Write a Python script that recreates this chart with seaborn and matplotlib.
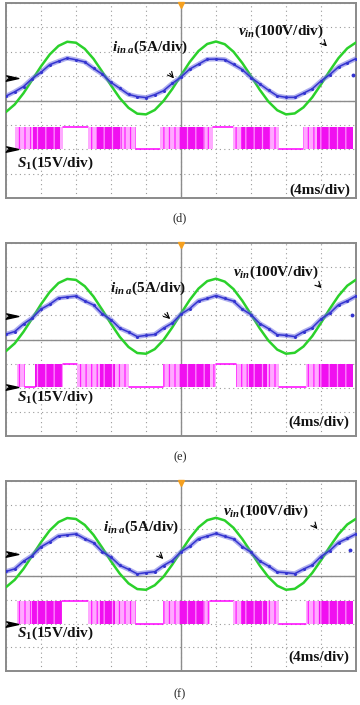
import matplotlib
matplotlib.use("Agg")
import numpy as np
import pandas as pd
import seaborn as sns
from matplotlib import pyplot as plt

sns.set_style("white")
plt.rcParams["font.family"] = ["Liberation Serif", "DejaVu Serif"]
plt.rcParams["mathtext.fontset"] = "custom"
plt.rcParams["mathtext.it"] = "Liberation Serif:bold:italic"
plt.rcParams["mathtext.rm"] = "Liberation Serif:bold"
plt.rcParams["hatch.linewidth"] = 0.9

## time axis in ms (4 ms/div, 10 div)
t_ms = list(range(41))

## traces in divisions, read at every 1 ms
vin_d = [-0.47, -0.16, 0.30, 0.85, 1.40, 1.89, 2.24, 2.41, 2.37, 2.12, 1.71, 1.18, 0.62, 0.10,
         -0.30, -0.54, -0.57, -0.39, -0.02, 0.47, 1.03, 1.58, 2.03, 2.32, 2.42, 2.31, 2.00, 1.54,
         1.00, 0.44, -0.05, -0.40, -0.57, -0.53, -0.28, 0.13, 0.66, 1.22, 1.74, 2.14, 2.38]
iin_d = [0.18, 0.36, 0.57, 0.90, 1.16, 1.47, 1.61, 1.74, 1.67, 1.58, 1.32, 1.08, 0.74, 0.50,
         0.25, 0.16, 0.12, 0.24, 0.40, 0.70, 0.96, 1.29, 1.49, 1.69, 1.70, 1.68, 1.48, 1.27,
         0.94, 0.68, 0.42, 0.19, 0.13, 0.13, 0.30, 0.48, 0.80, 1.06, 1.38, 1.55, 1.72]
vin_e = [-0.48, -0.16, 0.32, 0.88, 1.46, 1.97, 2.34, 2.51, 2.47, 2.21, 1.78, 1.23, 0.65, 0.11,
         -0.31, -0.56, -0.59, -0.40, -0.02, 0.50, 1.08, 1.64, 2.11, 2.42, 2.52, 2.40, 2.09, 1.61,
         1.04, 0.46, -0.05, -0.42, -0.59, -0.55, -0.29, 0.14, 0.69, 1.27, 1.81, 2.23, 2.48]
iin_e = [0.22, 0.33, 0.64, 0.89, 1.26, 1.46, 1.72, 1.76, 1.80, 1.60, 1.43, 1.06, 0.82, 0.47,
         0.31, 0.12, 0.17, 0.21, 0.47, 0.68, 1.05, 1.28, 1.60, 1.70, 1.82, 1.70, 1.59, 1.26,
         1.03, 0.66, 0.45, 0.20, 0.17, 0.12, 0.32, 0.49, 0.85, 1.09, 1.44, 1.60, 1.80]
vin_f = [-0.47, -0.16, 0.30, 0.86, 1.42, 1.92, 2.27, 2.44, 2.40, 2.15, 1.73, 1.19, 0.62, 0.10,
         -0.31, -0.55, -0.58, -0.39, -0.03, 0.48, 1.04, 1.59, 2.05, 2.35, 2.45, 2.34, 2.03, 1.56,
         1.01, 0.44, -0.05, -0.41, -0.58, -0.54, -0.29, 0.13, 0.66, 1.23, 1.76, 2.17, 2.41]
iin_f = [0.19, 0.30, 0.62, 0.86, 1.23, 1.44, 1.69, 1.73, 1.77, 1.57, 1.40, 1.03, 0.79, 0.45,
         0.28, 0.09, 0.14, 0.18, 0.44, 0.65, 1.02, 1.25, 1.57, 1.68, 1.79, 1.67, 1.56, 1.24,
         1.00, 0.63, 0.42, 0.17, 0.14, 0.10, 0.29, 0.46, 0.82, 1.07, 1.41, 1.58, 1.77]

## stray current sample near right edge (ms, div)
iin_dot_d = (39.6, 1.04)
iin_dot_e = (39.5, 1.02)
iin_dot_f = (39.3, 1.09)

## channel ground levels (div)
gnd_d = [0.92, -2.0]
gnd_e = [0.96, -1.96]
gnd_f = [0.93, -2.0]

## S1 gate signal: low / high level (div) and segments (ms)
## kinds: D dense switching, L sparse switching, H held high, W held low
s1_lv_d = [-2.0, -1.1]
s1_edges_d = [1.0, 3.1, 6.2, 6.5, 9.4, 10.4, 13.2, 14.9, 17.6, 19.8, 22.7, 23.6, 25.9, 27.0,
              30.1, 31.2, 33.9, 35.5, 39.6]
s1_kind_d = ["L", "D", "L", "H", "L", "D", "L", "W", "L", "D", "L", "H", "L", "D", "L", "W", "L", "D"]
s1_lv_e = [-1.96, -1.0]
s1_edges_e = [1.2, 2.2, 3.3, 6.5, 8.1, 10.7, 12.4, 14.1, 17.9, 19.8, 23.3, 24.0, 26.3, 27.8,
              29.8, 31.2, 34.3, 35.8, 39.6]
s1_kind_e = ["L", "W", "D", "H", "L", "D", "L", "W", "L", "D", "L", "H", "L", "D", "L", "W", "L", "D"]
s1_lv_f = [-2.0, -1.06]
s1_edges_f = [1.2, 3.0, 6.4, 9.4, 10.7, 12.4, 14.9, 17.9, 19.8, 22.7, 23.3, 25.9, 27.0, 29.8,
              31.2, 34.3, 35.8, 39.6]
s1_kind_f = ["L", "D", "H", "L", "D", "L", "W", "L", "D", "L", "H", "L", "D", "L", "W", "L", "D"]

## label anchors (ms, div)
lab_d = {"i": (12.1, 2.19), "v": (26.5, 2.85), "s": (1.3, -2.56), "t": (39.3, -3.67),
         "a1": [(18.5, 1.20), (19.4, 0.82)], "a2": [(36.1, 2.43), (36.9, 2.14)]}
lab_e = {"i": (11.9, 2.14), "v": (25.9, 2.80), "s": (1.3, -2.39), "t": (39.2, -3.42),
         "a1": [(17.9, 1.14), (19.0, 0.77)], "a2": [(35.5, 2.34), (36.3, 2.05)]}
lab_f = {"i": (11.1, 2.06), "v": (24.8, 2.74), "s": (1.3, -2.40), "t": (39.2, -3.41),
         "a1": [(17.3, 0.97), (18.2, 0.63)], "a2": [(35.0, 2.23), (35.8, 1.89)]}

panels = [
    ("(d)", vin_d, iin_d, iin_dot_d, gnd_d, s1_lv_d, s1_edges_d, s1_kind_d, lab_d),
    ("(e)", vin_e, iin_e, iin_dot_e, gnd_e, s1_lv_e, s1_edges_e, s1_kind_e, lab_e),
    ("(f)", vin_f, iin_f, iin_dot_f, gnd_f, s1_lv_f, s1_edges_f, s1_kind_f, lab_f),
]

W, H = 360, 705
fig = plt.figure(figsize=(W / 100, H / 100), dpi=100)

## axes boxes in pixels: (top, bottom), caption y
boxes = [(3, 198, 218), (243, 436, 457), (481, 671, 694)]

green = "#2bd12b"
blue = "#3434d0"
mag = "#ff00ff"

for (cap, vin, iin, dot, gnd, lv, edges, kinds, lab), (top, bot, capy) in zip(panels, boxes):
    ax = fig.add_axes([6 / W, 1 - bot / H, 350 / W, (bot - top) / H])
    ax.set_xlim(0, 40)
    ax.set_ylim(-4, 4)
    ax.set_xticks(range(0, 41, 4))
    ax.set_yticks(range(-4, 5))
    ax.tick_params(length=0, labelbottom=False, labelleft=False)
    ax.grid(True, ls=(0, (1, 3)), color="#9a9a9a", lw=0.8)
    ax.axhline(0, color="#8c8c8c", lw=1.0, zorder=1)
    ax.axvline(20, color="#8c8c8c", lw=1.0, zorder=1)
    for sp in ax.spines.values():
        sp.set_color("#8a8a8a")
        sp.set_linewidth(1.4)

    df = pd.DataFrame({"t": t_ms, "vin": vin, "iin": iin})
    sns.lineplot(ax=ax, data=df, x="t", y="vin", color=green, lw=1.8, errorbar=None, zorder=4)
    sns.lineplot(ax=ax, data=df, x="t", y="iin", color="#6a6ae0", lw=3.4, alpha=0.55,
                 errorbar=None, zorder=5)
    sns.lineplot(ax=ax, data=df, x="t", y="iin", color=blue, lw=1.1, marker="o",
                 markersize=2.2, markeredgewidth=0, errorbar=None, zorder=6)
    ax.plot(*dot, "o", color=blue, ms=2.8, mew=0, zorder=6)

    lo, hi = lv
    for t0, t1, k in zip(edges[:-1], edges[1:], kinds):
        if k == "H":
            ax.plot([t0, t1], [hi, hi], color=mag, lw=1.1, zorder=3)
        elif k == "W":
            ax.plot([t0, t1], [lo, lo], color=mag, lw=1.1, zorder=3)
        elif k == "D":
            ax.fill_between([t0, t1], [lo, lo], [hi, hi], facecolor="#f010f0",
                            edgecolor="#ff90ff", hatch="||", lw=0, zorder=3)
        else:
            ax.fill_between([t0, t1], [lo, lo], [hi, hi], facecolor="#ffaaff",
                            edgecolor="#ff20ff", hatch="|||", lw=0, zorder=3)

    ## ground markers and trigger marker
    arrow = [(-1.6, 0.7), (1.6, 0), (-1.6, -0.7), (-1.0, 0)]
    for g in gnd:
        ax.plot(0.7, g, marker=arrow, color="black", ms=9, clip_on=False, zorder=8)
    ax.plot(20, 3.9, marker="v", color="#f5a020", ms=5, clip_on=False, zorder=8)

    ax.text(*lab["i"], r"$i_{in\ a}$(5A/div)", fontsize=11, fontweight="bold",
            va="center", ha="left", color="#111111", zorder=9)
    ax.text(*lab["v"], r"$v_{in}$(100V/div)", fontsize=11, fontweight="bold",
            va="center", ha="left", color="#111111", zorder=9)
    ax.text(*lab["s"], r"$S_1$(15V/div)", fontsize=11, fontweight="bold",
            va="center", ha="left", color="#111111", zorder=9)
    ax.text(*lab["t"], "(4ms/div)", fontsize=11, fontweight="bold",
            va="center", ha="right", color="#111111", zorder=9)
    for key in ("a1", "a2"):
        p0, p1 = lab[key]
        ax.annotate("", xy=p1, xytext=p0,
                    arrowprops=dict(arrowstyle="->", color="black", lw=0.8), zorder=9)

    fig.text(0.5, 1 - capy / H, cap, ha="center", va="center", fontsize=9)

fig.savefig("out.png", dpi=100)
